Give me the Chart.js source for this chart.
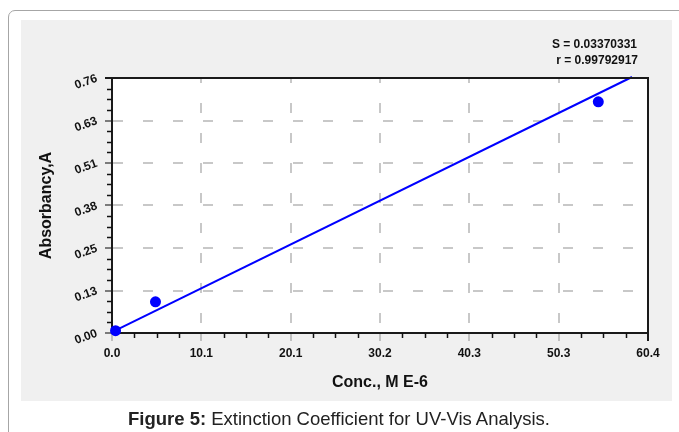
<!DOCTYPE html>
<html>
<head>
<meta charset="utf-8">
<script src="https://cdn.jsdelivr.net/npm/chart.js@4.4.1/dist/chart.umd.min.js"></script>
<style>
  html, body { margin: 0; padding: 0; background: #ffffff; }
  body { width: 679px; height: 432px; position: relative; overflow: hidden; font-family: "Liberation Sans", Arial, sans-serif; }
  #frame { position: absolute; left: 8px; top: 10px; width: 720px; height: 500px; border: 1px solid #a6a6a6; border-radius: 7px; box-sizing: border-box; }
  #panel { position: absolute; left: 21px; top: 20px; width: 651px; height: 381px; background: #f0f0f0; }
  #chartWrap { position: absolute; left: 0; top: 0; width: 679px; height: 432px; }
  #caption { position: absolute; left: 128px; top: 410px; font-size: 18.5px; line-height: 18px; color: #222; white-space: nowrap; }
  #caption b { font-weight: bold; }
</style>
</head>
<body>
<div id="frame"></div>
<div id="panel"></div>
<div id="chartWrap"><canvas id="c" width="679" height="432"></canvas></div>
<div id="caption"><b>Figure 5:</b> Extinction Coefficient for UV-Vis Analysis.</div>
<script>
// ---- data ----
const concValues = [0.4, 4.9, 54.8];          // Conc., M E-6
const absorbValues = [0.007, 0.093, 0.689];   // Absorbancy, A
const fitConc = [0.4, 58.6];                  // regression line end points
const fitAbsorb = [0.008, 0.763];
const xTickLabels = ['0.0', '10.1', '20.1', '30.2', '40.3', '50.3', '60.4'];
const yTickLabels = ['0.00', '0.13', '0.25', '0.38', '0.51', '0.63', '0.76'];
const xMax = 60.4;
const yMax = 0.76;
const statLines = ['S = 0.03370331', 'r = 0.99792917'];
const xTitle = 'Conc., M E-6';
const yTitle = 'Absorbancy,A';

const FONT = '"Liberation Sans", Arial, sans-serif';
const MINOR_DIV = 4;

const pointData = concValues.map((x, i) => ({ x: x, y: absorbValues[i] }));
const fitData = fitConc.map((x, i) => ({ x: x, y: fitAbsorb[i] }));

const plotDecor = {
  id: 'plotDecor',
  beforeDraw(chart) {
    const { ctx, chartArea: a } = chart;
    ctx.save();
    ctx.fillStyle = '#ffffff';
    ctx.fillRect(a.left, a.top, a.right - a.left, a.bottom - a.top);
    ctx.restore();
  },
  afterDraw(chart) {
    const { ctx, chartArea: a, scales } = chart;
    ctx.save();
    // top and right frame lines
    ctx.strokeStyle = '#1a1a1a';
    ctx.lineWidth = 2;
    ctx.beginPath();
    ctx.moveTo(a.left - 7, a.top);
    ctx.lineTo(a.right, a.top);
    ctx.lineTo(a.right, a.bottom + 8);
    ctx.stroke();
    // minor ticks
    ctx.strokeStyle = '#111';
    ctx.lineWidth = 1.5;
    const xs = scales.x, ys = scales.y;
    const xt = xs.ticks.map(t => t.value);
    for (let i = 0; i < xt.length - 1; i++) {
      for (let k = 1; k < MINOR_DIV; k++) {
        const v = xt[i] + (xt[i + 1] - xt[i]) * k / MINOR_DIV;
        const px = Math.round(xs.getPixelForValue(v)) + 0.5;
        ctx.beginPath(); ctx.moveTo(px, a.bottom); ctx.lineTo(px, a.bottom + 5); ctx.stroke();
      }
    }
    const yt = ys.ticks.map(t => t.value);
    for (let i = 0; i < yt.length - 1; i++) {
      for (let k = 1; k < MINOR_DIV; k++) {
        const v = yt[i] + (yt[i + 1] - yt[i]) * k / MINOR_DIV;
        const py = Math.round(ys.getPixelForValue(v)) + 0.5;
        ctx.beginPath(); ctx.moveTo(a.left - 5, py); ctx.lineTo(a.left, py); ctx.stroke();
      }
    }
    // statistics text
    ctx.fillStyle = '#111';
    ctx.font = 'bold 12px ' + FONT;
    ctx.textAlign = 'right';
    ctx.textBaseline = 'alphabetic';
    ctx.fillText(statLines[0], 637, 48);
    ctx.fillText(statLines[1], 638, 64);
    ctx.restore();
  }
};

new Chart(document.getElementById('c'), {
  type: 'scatter',
  data: {
    datasets: [
      {
        type: 'line',
        data: fitData,
        borderColor: '#0000ff',
        borderWidth: 2,
        pointRadius: 0,
        fill: false,
        clip: false,
        order: 2
      },
      {
        data: pointData,
        backgroundColor: '#0000ff',
        borderColor: '#0000ff',
        pointRadius: 5.5,
        borderWidth: 0,
        clip: false,
        order: 1
      }
    ]
  },
  options: {
    responsive: false,
    animation: false,
    devicePixelRatio: 1,
    layout: { padding: { left: 30, top: 78, right: 31, bottom: 40 } },
    plugins: { legend: { display: false }, tooltip: { enabled: false } },
    scales: {
      x: {
        type: 'linear',
        min: 0,
        max: xMax,
        afterBuildTicks(scale) {
          scale.ticks = xTickLabels.map((l, i) => ({ value: i * xMax / (xTickLabels.length - 1) }));
        },
        afterFit(scale) { scale.height = 59; },
        ticks: {
          callback: (v, i) => xTickLabels[i],
          font: { family: FONT, size: 12, weight: 'bold' },
          color: '#111',
          padding: 5,
          maxRotation: 0,
          autoSkip: false
        },
        grid: {
          color: '#c8c8c8',
          lineWidth: 2,
          drawTicks: true,
          tickLength: 8,
          tickColor: '#b0b0b0',
          tickWidth: 1.5,
          tickBorderDash: []
        },
        border: { display: true, color: '#1a1a1a', width: 2, dash: [10, 20], dashOffset: 5 },
        title: {
          display: true,
          text: xTitle,
          font: { family: FONT, size: 16, weight: 'bold' },
          color: '#111',
          padding: { top: 0, bottom: 0 }
        }
      },
      y: {
        type: 'linear',
        min: 0,
        max: yMax,
        afterBuildTicks(scale) {
          scale.ticks = yTickLabels.map((l, i) => ({ value: i * yMax / (yTickLabels.length - 1) }));
        },
        afterFit(scale) { scale.width = 82; },
        ticks: {
          callback: (v, i) => yTickLabels[i],
          font: { family: FONT, size: 12, weight: 'bold' },
          color: '#111',
          padding: 8,
          minRotation: 20,
          maxRotation: 20,
          autoSkip: false
        },
        grid: {
          color: '#c8c8c8',
          lineWidth: 2,
          drawTicks: true,
          tickLength: 7,
          tickColor: '#555',
          tickWidth: 1.5,
          tickBorderDash: []
        },
        border: { display: true, color: '#1a1a1a', width: 2, dash: [10, 20], dashOffset: 0 },
        title: {
          display: true,
          text: yTitle,
          font: { family: FONT, size: 16, weight: 'bold' },
          color: '#111',
          padding: { top: 7, bottom: 0 }
        }
      }
    }
  },
  plugins: [plotDecor]
});
</script>
</body>
</html>
